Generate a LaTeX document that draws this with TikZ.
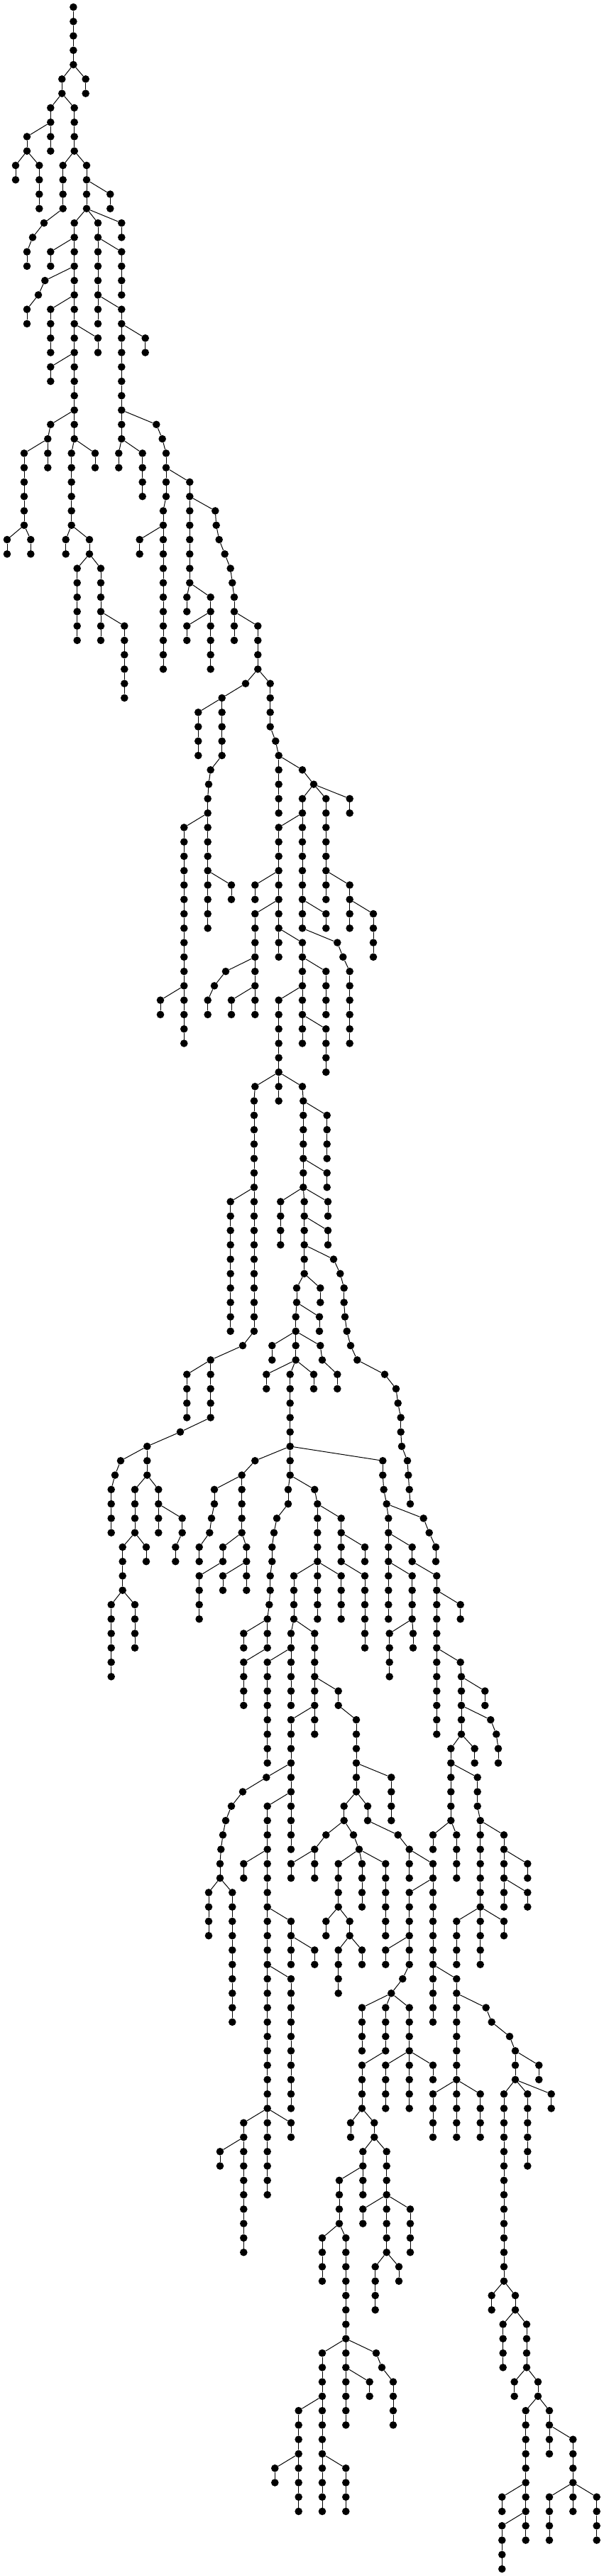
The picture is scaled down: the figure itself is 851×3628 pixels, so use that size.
\documentclass[tikz,border=0pt]{standalone}
\usetikzlibrary{calc}
\tikzset{
  vtx/.style={circle,fill=black,draw=none,inner sep=0pt,minimum size=10.6pt},
  conn/.style={draw=black,line width=1pt}
}
\newcount\vid
\newcount\mycn
\def\dyy{20.27pt}
% chain of #4 nodes at x=#3 below parent #1; the last is named #2
\newcommand\Br[4]{\edef\prevn{#1}\mycn=#4\relax
  \loop\ifnum\mycn>0
    \global\advance\vid by 1
    \edef\curn{v\the\vid}%
    \ifnum\mycn=1 \ifx\relax#2\relax\else\edef\curn{#2}\fi\fi
    \path let \p1=(\prevn) in node[vtx] (\curn) at (#3pt,\y1-\dyy) {};
    \draw[conn] (\prevn) -- (\curn);
    \advance\mycn by -1
    \edef\prevn{\curn}%
  \repeat}
\newcommand\Lf[3]{\Br{#1}{}{#2}{#3}}
\begin{document}
\begin{tikzpicture}
\useasboundingbox (0pt,0pt) rectangle (851pt,-3628pt);
\node[vtx] (root) at (103.4pt,-10pt) {};
\Br{root}{a}{103.4}{4}
\Lf{a}{120.7}{2}
\Br{a}{b}{87.3}{2}
\Br{b}{c}{71.3}{2}
\Lf{c}{71.3}{2}
\Br{c}{d}{38}{2}
\Lf{d}{22}{2}
\Lf{d}{55.3}{4}
\Br{b}{e}{104.7}{4}
\Br{e}{f}{88.7}{4}
\Br{f}{f1}{62}{1}\Br{f1}{f2}{46}{1}\Lf{f2}{38}{2}
\Br{e}{g}{122}{2}
\Lf{g}{155.3}{2}
\Br{g}{h}{122}{2}
\Lf{h}{171.3}{2}
\Br{h}{i}{138}{2}
\Br{i}{k}{138}{4}
\Lf{i}{171.3}{4}
\Lf{k}{138}{2}
\Br{k}{m}{171.3}{2}
\Lf{m}{204.7}{2}
\Br{m}{n}{171.3}{6}
\Br{n}{o}{171.3}{2}
\Lf{o}{167.3}{2}
\Lf{o}{200.7}{4}
\Br{n}{n1}{220.3}{1}\Br{n1}{n2}{228.7}{1}\Br{n2}{p}{234}{2}
\Br{p}{p1}{234}{2}\Br{p1}{q}{230}{2}
\Lf{q}{196.7}{2}
\Lf{q}{230}{10}
\Br{p}{s}{267.3}{2}
\Br{s}{t}{267.3}{6}
\Lf{t}{263.3}{2}
\Br{t}{u}{296.7}{2}
\Lf{u}{263.3}{2}
\Lf{u}{296.7}{4}
\Br{s}{s1}{303.3}{1}\Br{s1}{s2}{304.7}{1}\Br{s2}{s3}{308.7}{1}\Br{s3}{s4}{316.7}{1}\Br{s4}{s5}{324.7}{1}\Br{s5}{s6}{327.3}{1}\Br{s6}{v}{330}{2}
\Lf{v}{330}{2}
\Br{v}{w}{363.3}{4}
\Br{w}{w1}{346}{1}\Br{w1}{x}{312.7}{1}
\Lf{x}{279.3}{4}
\Br{x}{x1}{312.7}{4}
\Br{x1}{x2}{296.7}{1}\Br{x2}{x3}{294}{1}\Br{x3}{y}{292.7}{2}
\Br{y}{z}{292.7}{4}
\Lf{z}{326}{2}
\Lf{z}{292.7}{4}
\Br{y}{aa}{259.3}{12}
\Lf{aa}{226}{2}
\Lf{aa}{259.3}{4}
\Br{w}{w2}{380.7}{4}
\Br{w2}{w3}{388.3}{1}\Br{w3}{ab}{392.7}{1}
\Lf{ab}{392.7}{4}
\Br{ab}{ab1}{426}{1}\Br{ab1}{ac}{442}{1}
\Lf{ac}{492.7}{2}
\Br{ac}{ad}{426}{2}
\Br{ad}{ae}{392.7}{4}
\Lf{ae}{359.3}{2}
\Br{ae}{af}{392.7}{2}
\Br{af}{ag}{392.7}{2}
\Lf{ag}{392.7}{2}
\Br{ag}{ah}{426}{2}
\Lf{ah}{459.3}{4}
\Br{ah}{ai}{426}{2}
\Br{ai}{al}{392.7}{6}
\Br{ai}{aj}{426}{2}
\Lf{aj}{426}{2}
\Lf{aj}{459.3}{4}
\Br{af}{ak}{359.3}{4}
\Br{ak}{am}{359.3}{2}
\Lf{am}{326}{2}
\Lf{am}{359.3}{2}
\Br{ak}{ak1}{318}{1}\Br{ak1}{ak2}{302}{1}\Lf{ak2}{292.7}{2}
\Br{ad}{an}{426}{6}
\Br{an}{ao}{426}{2}
\Lf{an}{459.3}{2}
\Br{ao}{ao1}{475.3}{1}\Br{ao1}{ao2}{483.3}{1}\Lf{ao2}{492.7}{6}
\Br{ac}{ap}{459.3}{6}
\Lf{ap}{459.3}{2}
\Br{ap}{aq}{492.7}{2}
\Lf{aq}{492.7}{2}
\Lf{aq}{526}{4}
% below al
\Br{al}{al1}{359.3}{1}\Br{al1}{ar}{358}{7}
\Lf{al}{392.7}{2}
\Br{al}{al2}{426}{1}\Br{al2}{au}{427.3}{1}
\Lf{ar}{324.7}{10}
\Br{ar}{as}{358}{10}
\Br{as}{as1}{342}{1}\Br{as1}{at}{296.7}{1}
\Lf{at}{263.3}{4}
\Br{at}{bf}{296.7}{4}
\Br{bf}{bf1}{254}{1}\Br{bf1}{bg}{207.3}{1}
\Br{bg}{bg1}{170}{1}\Br{bg1}{bg2}{162}{1}\Lf{bg2}{156.7}{4}
\Br{bg}{bh}{207.3}{2}
\Br{bh}{bi}{190}{4}
\Br{bi}{bj}{172.7}{4}
\Lf{bi}{206}{2}
\Lf{bj}{156.7}{6}
\Lf{bj}{190}{4}
\Br{bh}{bk}{223.3}{2}
\Lf{bk}{223.3}{2}
\Br{bk}{bk1}{256.7}{2}\Lf{bk1}{247.3}{2}
\Lf{au}{460.7}{4}
\Br{au}{av}{427.3}{4}
\Lf{av}{460.7}{2}
\Br{av}{aw}{427.3}{2}
\Lf{aw}{395.3}{4}
\Br{aw}{ax}{428.7}{2}
\Lf{aw}{462}{2}
\Lf{ax}{462}{2}
\Br{ax}{ay}{428.7}{2}
\Br{ay}{az}{428.7}{2}
\Br{ay}{ay1}{470}{1}\Br{ay1}{ay2}{479.3}{1}\Br{ay2}{ay3}{484.7}{2}\Br{ay3}{ay4}{486}{1}\Br{ay4}{ay5}{488.7}{1}\Br{ay5}{ay6}{494}{1}\Br{ay6}{be}{503.3}{1}
\Br{be}{be1}{542}{1}\Br{be1}{be2}{558}{1}\Br{be2}{be3}{560.7}{1}\Br{be3}{be4}{564.7}{2}\Br{be4}{be5}{566}{1}\Br{be5}{be6}{574}{1}\Br{be6}{be7}{575.3}{1}\Br{be7}{be8}{576.7}{1}\Lf{be8}{578}{1}
\Br{az}{ba}{418}{2}
\Lf{az}{451.3}{2}
\Br{ba}{bb}{416.7}{2}
\Lf{ba}{450}{2}
\Lf{bb}{383.3}{2}
\Br{bb}{bc}{416.7}{2}
\Br{bb}{bb1}{451.3}{1}\Br{bb1}{bb2}{454}{1}\Lf{bb2}{475.3}{2}
\Lf{bc}{375.3}{2}
\Br{bc}{bd}{408.7}{6}
\Lf{bc}{442}{2}
\Br{bd}{bd1}{359.3}{1}\Br{bd1}{bl}{340.7}{1}
\Br{bl}{bl1}{302}{2}\Br{bl1}{bl2}{298}{1}\Br{bl2}{bl3}{295.3}{1}\Lf{bl3}{280.7}{2}
\Br{bl}{bm}{340.7}{4}
\Br{bm}{bn}{314}{2}
\Lf{bn}{280.7}{4}
\Br{bm}{bo}{347.3}{2}
\Lf{bo}{314}{2}
\Lf{bo}{347.3}{2}
\Br{bd}{bp}{408.7}{2}
\Br{bp}{q1}{406}{2}\Br{q1}{q2}{390}{1}\Br{q2}{q3}{386}{1}\Br{q3}{q4}{383.3}{2}\Br{q4}{q5}{380.7}{2}\Br{q5}{q6}{379.3}{1}\Br{q6}{bq}{376.7}{1}
\Lf{bq}{343.3}{2}
\Br{bq}{br}{376.7}{2}
\Lf{br}{343.3}{4}
\Br{bp}{bp1}{443.3}{1}\Br{bp1}{bs}{447.3}{1}
\Br{bs}{bt}{447.3}{4}
\Br{bt}{bu}{414}{4}
\Lf{bt}{447.3}{4}
\Lf{bt}{480.7}{4}
\Br{bu}{bv}{410}{2}
\Br{bu}{bw}{443.3}{4}
\Lf{bv}{376.7}{8}
\Lf{bv}{410}{4}
\Br{bw}{bx}{443.3}{2}
\Br{bw}{by}{476.7}{2}
\Br{bx}{cl}{410}{4}
\Lf{bx}{443.3}{2}
\Br{by}{cu}{502}{4}
\Br{bs}{bz}{480.7}{2}
\Br{bz}{ca}{480.7}{2}
\Lf{bz}{514}{2}
\Lf{ca}{514}{6}
\Br{bd}{r1}{539.3}{2}\Br{r1}{r2}{540.7}{1}\Br{r2}{cb}{544.7}{1}
\Br{cb}{cc}{547.3}{2}
\Br{cb}{r3}{596.7}{1}\Br{r3}{r4}{604.7}{1}\Lf{r4}{614}{2}
\Br{cc}{cd}{547.3}{2}
\Br{cc}{ce}{580.7}{2}
\Lf{cd}{547.3}{4}
\Br{cd}{cf}{580.7}{4}
\Lf{cf}{548.7}{4}
\Lf{cf}{582}{2}
\Br{ce}{cg}{615.3}{2}
\Lf{cg}{648.7}{2}
\Br{cg}{ch}{615.3}{4}
\Lf{ch}{615.3}{6}
\Br{ch}{ch1}{648.7}{1}\Br{ch1}{ci}{650}{1}
\Br{ci}{cj}{650}{2}
\Lf{ci}{683.3}{2}
\Br{cj}{ck}{650}{2}
\Br{cj}{cj1}{691.3}{1}\Br{cj1}{cj2}{699.3}{1}\Lf{cj2}{702}{2}
\Br{ck}{dm}{635.3}{2}
\Lf{ck}{668.7}{2}
% below cl
\Br{cl}{cl1}{375.3}{1}\Br{cl1}{cl2}{342}{1}\Br{cl2}{cl3}{326}{1}\Br{cl3}{cl4}{318}{1}\Br{cl4}{cl5}{314}{1}\Br{cl5}{cl6}{311.3}{1}\Br{cl6}{cn}{310}{2}
\Lf{cn}{294}{4}
\Lf{cn}{327.3}{10}
\Br{cl}{cm}{410}{2}
\Lf{cm}{410}{4}
\Br{cm}{co}{376.7}{4}
\Lf{co}{343.3}{2}
\Br{co}{cp}{376.7}{4}
\Br{cp}{cr}{410}{2}
\Lf{cr}{410}{2}
\Lf{cr}{443.3}{2}
\Br{cp}{cq}{376.7}{4}
\Br{cq}{cs}{376.7}{10}
\Lf{cq}{410}{10}
\Br{cs}{ct}{343.3}{2}
\Lf{cs}{376.7}{6}
\Lf{cs}{410}{2}
\Lf{ct}{310}{2}
\Lf{ct}{343.3}{8}
% below cu
\Lf{cu}{551.3}{4}
\Br{cu}{cv}{502}{2}
\Br{cv}{cw}{484.7}{2}
\Br{cw}{cw1}{459.3}{1}\Br{cw1}{cx}{443.3}{1}
\Lf{cx}{410}{2}
\Lf{cx}{443.3}{2}
\Br{cw}{cw2}{498}{1}\Br{cw2}{cy}{506}{1}
\Br{cy}{cz}{476.7}{4}
\Lf{cy}{510}{4}
\Lf{cy}{543.3}{6}
\Lf{cz}{459.3}{2}
\Br{cz}{da}{492.7}{2}
\Lf{da}{476.7}{4}
\Lf{da}{510}{2}
\Br{cv}{cv1}{518}{2}\Br{cv1}{cv2}{560.7}{1}\Br{cv2}{db}{576.7}{1}
\Lf{db}{576.7}{2}
\Br{db}{dc}{610}{2}
\Br{dc}{dd}{576.7}{4}
\Br{dc}{de}{610}{6}
\Lf{dd}{543.3}{2}
\Br{dd}{dd1}{576.7}{2}\Br{dd1}{dd2}{567.3}{1}\Br{dd2}{df}{551.3}{1}
\Lf{df}{510}{4}
\Br{df}{dg}{543.3}{4}
\Br{df}{dh}{576.7}{4}
\Br{dg}{ea}{510}{4}
\Lf{dh}{543.3}{4}
\Lf{dh}{576.7}{4}
\Lf{dh}{610}{2}
\Lf{de}{610}{4}
\Br{de}{di}{643.3}{2}
\Br{di}{dj}{643.3}{6}
\Br{di}{di1}{684.7}{1}\Br{di1}{di2}{692.7}{1}\Br{di2}{di3}{718}{1}\Br{di3}{dk}{726}{1}
\Lf{dj}{610}{4}
\Lf{dj}{643.3}{4}
\Lf{dj}{676.7}{4}
\Br{dk}{dl}{726}{2}
\Lf{dk}{759.3}{2}
\Br{dl}{ds}{710}{14}
\Lf{dl}{743.3}{6}
\Lf{dl}{776.7}{2}
\Lf{ds}{692.7}{2}
\Br{ds}{dt}{726}{2}
\Lf{dt}{708.7}{4}
\Br{dt}{du}{742}{4}
\Lf{du}{724.7}{2}
\Br{du}{dv}{758}{2}
\Br{dv}{dw}{740.7}{6}
\Br{dv}{dy}{774}{2}
\Lf{dw}{707.3}{2}
\Br{dw}{dx}{740.7}{2}
\Lf{dx}{707.3}{4}
\Lf{dx}{740.7}{2}
\Lf{dy}{774}{2}
\Br{dy}{dz}{807.3}{4}
\Lf{dz}{774}{4}
\Lf{dz}{807.3}{2}
\Lf{dz}{840.7}{4}
% below dm
\Br{dm}{dn}{635.3}{4}
\Lf{dn}{610}{2}
\Lf{dn}{643.3}{4}
\Br{dm}{dm1}{672.7}{3}\Br{dm1}{do}{676.7}{1}
\Br{do}{dr}{676.7}{6}
\Br{do}{dp}{710}{2}
\Br{dp}{dq}{710}{2}
\Lf{dp}{743.3}{2}
\Lf{dq}{710}{2}
\Lf{dq}{743.3}{2}
\Lf{dr}{643.3}{4}
\Lf{dr}{676.7}{4}
\Lf{dr}{710}{2}
% below ea
\Lf{ea}{494}{2}
\Br{ea}{eb}{527.3}{2}
\Br{eb}{ec}{511.3}{2}
\Br{eb}{ef}{544.7}{4}
\Br{ec}{ed}{478}{4}
\Lf{ec}{511.3}{2}
\Lf{ed}{454}{4}
\Br{ed}{ee}{487.3}{8}
\Lf{ef}{511.3}{2}
\Br{ef}{eg}{544.7}{4}
\Lf{ef}{578}{4}
\Lf{eg}{528.7}{4}
\Lf{eg}{562}{2}
\Br{ee}{eh}{454}{4}
\Br{ee}{ek}{487.3}{2}
\Br{ee}{ee1}{530}{1}\Br{ee1}{ee2}{538}{1}\Lf{ee2}{554}{4}
\Br{eh}{ei}{420.7}{4}
\Br{eh}{ej}{454}{4}
\Lf{ei}{387.3}{2}
\Lf{ei}{420.7}{4}
\Lf{ej}{454}{4}
\Lf{ej}{487.3}{4}
\Lf{ek}{487.3}{4}
\Lf{ek}{520.7}{2}
% below h, left part
\Br{h}{hl}{104.7}{2}
\Lf{hl}{71.3}{2}
\Br{hl}{h2}{104.7}{2}
\Br{h2}{z1}{63.3}{1}\Br{z1}{z2}{54}{1}\Lf{z2}{38}{2}
\Br{h2}{h3}{104.7}{2}
\Lf{h3}{71.3}{4}
\Br{h3}{h4}{104.7}{2}
\Lf{h4}{138}{2}
\Br{h4}{h5}{104.7}{2}
\Lf{h5}{71.3}{2}
\Br{h5}{h6}{104.7}{4}
\Br{h6}{h7}{104.7}{2}
\Br{h6}{z3}{71.3}{1}\Br{z3}{h8}{67.3}{1}
\Br{h8}{h9}{34}{6}
\Lf{h8}{67.3}{2}
\Lf{h9}{10}{2}
\Lf{h9}{43.3}{2}
\Br{h7}{h10}{100.7}{6}
\Lf{h7}{134}{2}
\Lf{h10}{92.7}{2}
\Br{h10}{h11}{126}{2}
\Lf{h11}{108.7}{6}
\Br{h11}{h12}{142}{4}
\Lf{h12}{142}{2}
\Lf{h12}{175.3}{6}
\end{tikzpicture}
\end{document}
